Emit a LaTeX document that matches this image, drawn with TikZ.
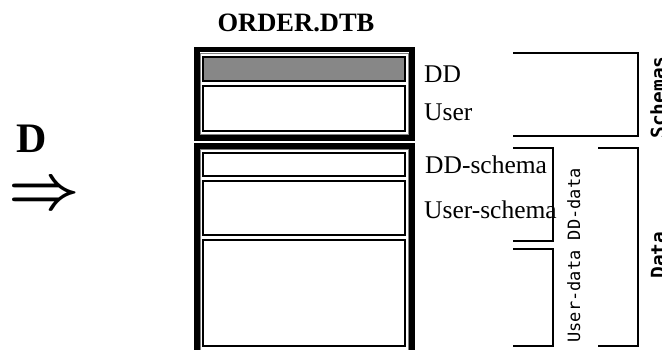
\documentclass[tikz,border=0pt]{standalone}
\usepackage{fontspec}
\setmainfont{Liberation Serif}
\setmonofont{DejaVu Sans Mono}
\tikzset{
  frame/.style={line width=5.5pt},
  hair/.style={gray,line width=1pt},
  cell/.style={line width=2pt},
  brace/.style={line width=2pt},
  lbl/.style={anchor=base west,inner sep=0pt,font=\fontsize{25.5}{25.5}\selectfont},
  tag/.style={rotate=90,anchor=base,inner sep=0pt,font=\ttfamily\fontsize{17}{17}\selectfont},
  bigtag/.style={tag,font=\ttfamily\bfseries\fontsize{19.5}{19.5}\selectfont},
}
\begin{document}
\begin{tikzpicture}[x=1pt,y=-1pt]
\useasboundingbox (0,0) rectangle (662,349);
\clip (0,0) rectangle (662,349);
% file name and the operation
\node[anchor=base,inner sep=0pt,font=\bfseries\fontsize{26.5}{26.5}\selectfont] (title) at (296,31.7) {ORDER.DTB};
\node[anchor=base,inner sep=0pt,font=\bfseries\fontsize{42}{42}\selectfont] (op) at (31.5,152) {D};
\node[inner sep=0pt,scale=2.5,font=\Huge\boldmath] (arrow) at (44,196.5) {$\Rightarrow$};
% the two parts of the file
\draw[frame] (197,49.5) rectangle (412,138);
\draw[hair] (200.5,53.5) rectangle (408.5,134.5);
\draw[frame] (197,360) |- (412,146) -- (412,360);
\draw[hair] (200.5,360) |- (408.5,149.5) -- (408.5,360);
\draw[cell,fill=black!47] (203,57) rectangle (405,81);
\foreach \ya/\yb in {86/131,153/176,181/235,240/346}{
    \draw[cell] (203,\ya) rectangle (405,\yb);
    }
\node[lbl] (dd) at (424,82.5) {DD};
\node[lbl] (user) at (424,120) {User};
\node[lbl] (ddschema) at (425,173) {DD-schema};
\node[lbl] (userschema) at (424,218) {User-schema};
% brackets on the right
\draw[brace] (513,53) -| (638,136) -- (513,136);
\draw[brace] (513,148) -| (553,241) -- (513,241);
\draw[brace] (513,249) -| (553,346) -- (513,346);
\draw[brace] (598,148) -| (638,346) -- (598,346);
\node[tag] (userdata) at (580,255.5) {User-data DD-data};
\node[bigtag] (schemas) at (665,97.5) {Schemas};
\node[bigtag] (data) at (665,255) {Data};
\end{tikzpicture}
\end{document}
